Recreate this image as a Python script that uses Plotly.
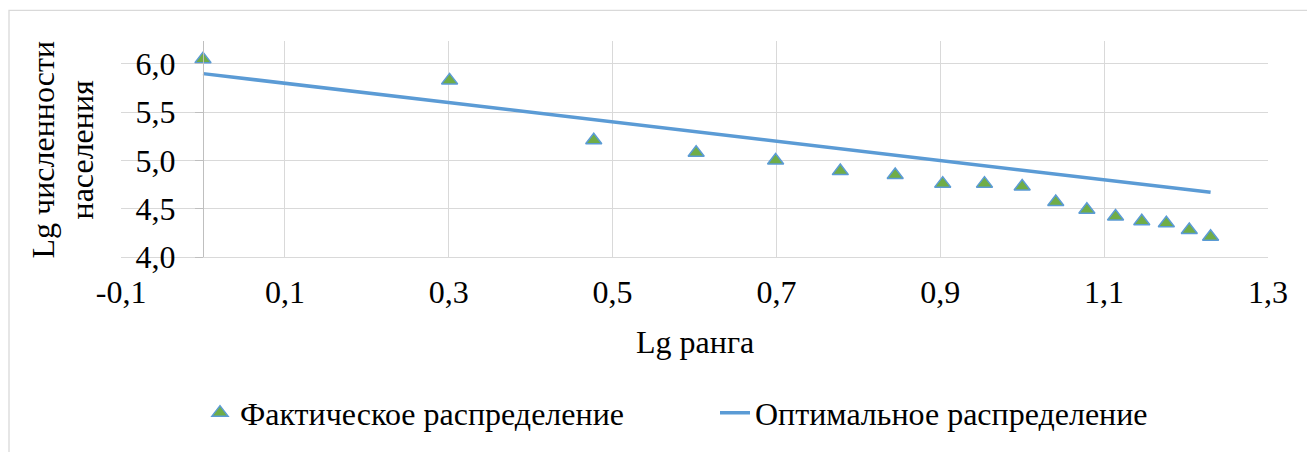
import plotly.graph_objects as go

# Data
lg_rank = [0.000, 0.301, 0.477, 0.602, 0.699, 0.778, 0.845, 0.903, 0.954,
           1.000, 1.041, 1.079, 1.114, 1.146, 1.176, 1.204, 1.230]
actual = [6.05, 5.83, 5.21, 5.08, 5.00, 4.89, 4.85, 4.76, 4.76,
          4.73, 4.57, 4.49, 4.42, 4.37, 4.35, 4.28, 4.21]
optimal = [5.900, 5.599, 5.423, 5.298, 5.201, 5.122, 5.055, 4.997, 4.946,
           4.900, 4.859, 4.821, 4.786, 4.754, 4.724, 4.696, 4.670]

x_tickvals = [-0.1, 0.1, 0.3, 0.5, 0.7, 0.9, 1.1, 1.3]
x_ticktext = ["-0,1", "0,1", "0,3", "0,5", "0,7", "0,9", "1,1", "1,3"]
y_tickvals = [4.0, 4.5, 5.0, 5.5, 6.0]
y_ticktext = ["4,0", "4,5", "5,0", "5,5", "6,0"]

series_names = ["Фактическое распределение", "Оптимальное распределение"]
x_title = "Lg ранга"
y_title_lines = ["Lg численности", "населения"]

FONT = "Liberation Serif"
FS = 32
GRID = "#d9d9d9"

fig = go.Figure()
fig.add_trace(go.Scatter(
    x=lg_rank, y=actual, mode="markers", name=series_names[0],
    marker=dict(symbol="triangle-up", size=14, color="#70ad47",
                line=dict(color="#5b9bd5", width=1.5)),
))
fig.add_trace(go.Scatter(
    x=lg_rank, y=optimal, mode="lines", name=series_names[1],
    line=dict(color="#5b9bd5", width=3.5),
))

W, H = 1307, 452
L, R, T, B = 121, 39, 41, 192
pw, ph = W - L - R, H - T - B
x0pix = L + (0 - (-0.1)) / 1.4 * pw

fig.update_layout(
    width=W, height=H,
    margin=dict(l=L, r=R, t=T, b=B, pad=0),
    paper_bgcolor="white", plot_bgcolor="white",
    font=dict(family=FONT, size=FS, color="black"),
    showlegend=True,
    legend=dict(orientation="h", x=(200 - L) / pw, xanchor="left", y=(T + ph - 418) / ph,
                yanchor="middle",
                font=dict(family=FONT, size=FS, color="black"),
                itemwidth=30, traceorder="normal", entrywidth=470),
    xaxis=dict(range=[-0.1001, 1.3001], tickvals=x_tickvals, ticktext=x_ticktext,
               showgrid=True, gridcolor=GRID, gridwidth=1.3, zeroline=False,
               showline=True, linecolor=GRID, linewidth=1.3, ticks="",
               ticklabelstandoff=6, tickfont=dict(family=FONT, size=FS, color="black")),
    yaxis=dict(range=[4.0, 6.238], tickvals=y_tickvals, ticktext=y_ticktext,
               showgrid=True, gridcolor=GRID, gridwidth=1.3, zeroline=False,
               anchor="free", position=(x0pix - L) / pw,
               showline=True, linecolor="#bfbfbf", linewidth=1.3,
               ticks="outside", ticklen=8, tickcolor="#bfbfbf", tickwidth=1.3,
               ticklabelstandoff=13, tickfont=dict(family=FONT, size=FS, color="black")),
)

for line_text, xpix in zip(y_title_lines, [43, 82]):
    fig.add_annotation(text=line_text, xref="paper", yref="paper",
                       x=(xpix - L) / pw, y=(T + ph - 151) / ph,
                       xanchor="center", yanchor="middle",
                       textangle=-90, showarrow=False,
                       font=dict(family=FONT, size=FS, color="black"))
fig.add_annotation(text=x_title, xref="paper", yref="paper",
                   x=0.5, y=(T + ph - 346) / ph, xanchor="center", yanchor="middle",
                   showarrow=False, font=dict(family=FONT, size=FS, color="black"))

# chart outer border
fig.add_shape(type="rect", xref="paper", yref="paper",
              x0=(9 - L) / pw, x1=(1320 - L) / pw,
              y0=(T + ph - 470) / ph, y1=(T + ph - 10) / ph,
              line=dict(color=GRID, width=1.3), fillcolor="rgba(0,0,0,0)", layer="below")

fig.write_html("out.html", config={"displayModeBar": False},
               post_script="document.body.style.margin='0';document.body.style.overflow='hidden';")
